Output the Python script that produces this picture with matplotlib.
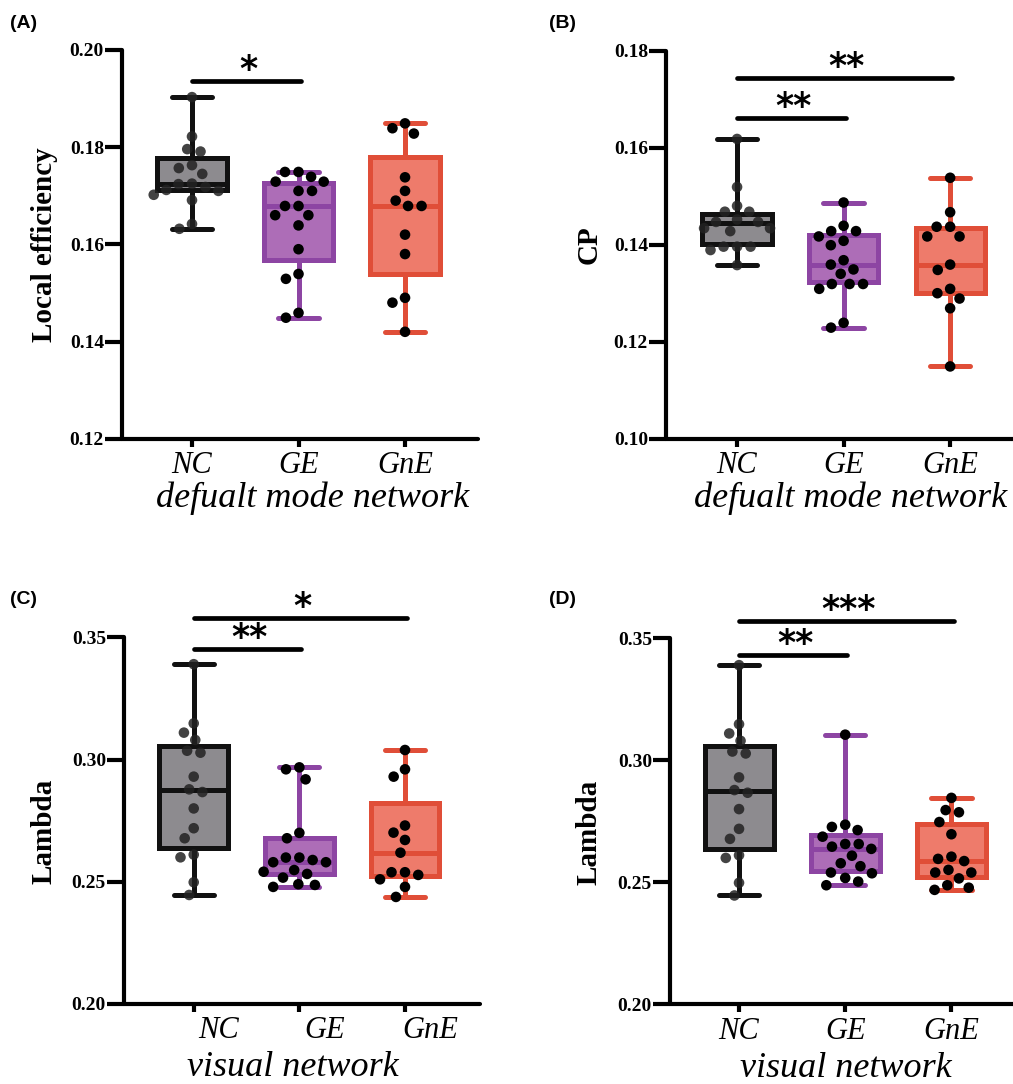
import numpy as np
import matplotlib
matplotlib.use('Agg')
import matplotlib.pyplot as plt
from matplotlib.transforms import ScaledTranslation

groups = ['NC', 'GE', 'GnE']

# ---- Panel A : Local efficiency (default mode network)
a_nc = [0.1903, 0.1822, 0.1796, 0.1791, 0.1763, 0.1757, 0.1745, 0.1725, 0.1724,
        0.1718, 0.1712, 0.1710, 0.1702, 0.1691, 0.1642, 0.1632]
a_ge = [0.1749, 0.1749, 0.1739, 0.1729, 0.1729, 0.1710, 0.1710, 0.1679, 0.1679,
        0.1660, 0.1660, 0.1639, 0.1590, 0.1539, 0.1529, 0.1459, 0.1449]
a_gne = [0.1849, 0.1839, 0.1828, 0.1738, 0.1710, 0.1690, 0.1679, 0.1679, 0.1620,
         0.1580, 0.1490, 0.1480, 0.1420]
a_q1 = [0.1711, 0.1568, 0.1539]
a_med = [0.1724, 0.1679, 0.1679]
a_q3 = [0.1778, 0.1726, 0.1779]
a_sig = [(0, 1, 0.1936, '*')]

# ---- Panel B : CP (default mode network)
b_nc = [0.1618, 0.1519, 0.1480, 0.1468, 0.1468, 0.1452, 0.1447, 0.1447, 0.1434,
        0.1434, 0.1428, 0.1396, 0.1396, 0.1396, 0.1389, 0.1358]
b_ge = [0.1487, 0.1439, 0.1428, 0.1428, 0.1417, 0.1408, 0.1399, 0.1368, 0.1359,
        0.1349, 0.1340, 0.1319, 0.1319, 0.1319, 0.1309, 0.1239, 0.1229]
b_gne = [0.1538, 0.1467, 0.1437, 0.1437, 0.1417, 0.1417, 0.1359, 0.1348, 0.1309,
         0.1300, 0.1289, 0.1269, 0.1149]
b_q1 = [0.1402, 0.1324, 0.1300]
b_med = [0.1444, 0.1359, 0.1359]
b_q3 = [0.1463, 0.1419, 0.1434]
b_sig = [(0, 1, 0.1661, '**'), (0, 2, 0.1744, '**')]

# ---- Panel C : Lambda (visual network)
c_nc = [0.3390, 0.3148, 0.3110, 0.3080, 0.3036, 0.3028, 0.2930, 0.2878, 0.2867,
        0.2800, 0.2719, 0.2678, 0.2611, 0.2600, 0.2498, 0.2446]
c_ge = [0.2968, 0.2960, 0.2919, 0.2700, 0.2678, 0.2599, 0.2599, 0.2589, 0.2580,
        0.2580, 0.2548, 0.2541, 0.2532, 0.2517, 0.2490, 0.2487, 0.2479]
c_gne = [0.3039, 0.2960, 0.2930, 0.2730, 0.2701, 0.2671, 0.2619, 0.2539, 0.2539,
         0.2528, 0.2510, 0.2479, 0.2438]
c_q1 = [0.2637, 0.2530, 0.2525]
c_med = [0.2874, 0.2580, 0.2619]
c_q3 = [0.3057, 0.2680, 0.2821]
c_sig = [(0, 1, 0.3451, '**'), (0, 2, 0.3578, '*')]

# ---- Panel D : Lambda (visual network)
d_nc = [0.3390, 0.3148, 0.3110, 0.3080, 0.3036, 0.3028, 0.2930, 0.2878, 0.2867,
        0.2800, 0.2719, 0.2678, 0.2611, 0.2600, 0.2498, 0.2446]
d_ge = [0.3105, 0.2736, 0.2727, 0.2714, 0.2687, 0.2657, 0.2657, 0.2646, 0.2637,
        0.2609, 0.2578, 0.2566, 0.2540, 0.2537, 0.2518, 0.2503, 0.2488]
d_gne = [0.2846, 0.2796, 0.2787, 0.2747, 0.2697, 0.2605, 0.2596, 0.2587, 0.2551,
         0.2540, 0.2540, 0.2516, 0.2488, 0.2478, 0.2469]
d_q1 = [0.2637, 0.2546, 0.2523]
d_med = [0.2874, 0.2637, 0.2587]
d_q3 = [0.3057, 0.2694, 0.2739]
d_sig = [(0, 1, 0.3432, '**'), (0, 2, 0.3570, '***')]

edge_colors = ['#111111', '#8d45a3', '#e04e38']
fill_colors = ['#8d8b8f', '#ad6db7', '#ee7b6b']
dot_colors = ['#222222', '#000000', '#000000']
dot_alpha = [0.85, 1.0, 1.0]

W, H = 1013, 1084
fig = plt.figure(figsize=(W / 100, H / 100), dpi=100)


def rect(l, r, t, b):
    return [l / W, 1 - b / H, (r - l) / W, (b - t) / H]


panels = [
    dict(rect=rect(122, 478, 50, 438.7), xlim=(-0.657, 2.685), ylim=(0.12, 0.20),
         yticks=[0.12, 0.14, 0.16, 0.18, 0.20],
         data=[a_nc, a_ge, a_gne], q1=a_q1, med=a_med, q3=a_q3, sig=a_sig,
         ylabel='Local efficiency', xlabel='defualt mode network', letter='(A)',
         letter_xy=(10, 24), ylab=(-0.219, 0.5), xlab=(0.534, -0.153), shift=0),
    dict(rect=rect(666, 1013, 50.7, 438.7), xlim=(-0.667, 2.59), ylim=(0.10, 0.18),
         yticks=[0.10, 0.12, 0.14, 0.16, 0.18],
         data=[b_nc, b_ge, b_gne], q1=b_q1, med=b_med, q3=b_q3, sig=b_sig,
         ylabel='CP', xlabel='defualt mode network', letter='(B)',
         letter_xy=(549, 24), ylab=(-0.222, 0.5), xlab=(0.533, -0.153), shift=0),
    dict(rect=rect(124, 480, 637.3, 1004), xlim=(-0.66, 2.71), ylim=(0.20, 0.35),
         yticks=[0.20, 0.25, 0.30, 0.35],
         data=[c_nc, c_ge, c_gne], q1=c_q1, med=c_med, q3=c_q3, sig=c_sig,
         ylabel='Lambda', xlabel='visual network', letter='(C)',
         letter_xy=(10, 600), ylab=(-0.225, 0.472), xlab=(0.475, -0.1745), shift=25),
    dict(rect=rect(670, 1013, 638.3, 1004.3), xlim=(-0.65, 2.58), ylim=(0.20, 0.35),
         yticks=[0.20, 0.25, 0.30, 0.35],
         data=[d_nc, d_ge, d_gne], q1=d_q1, med=d_med, q3=d_q3, sig=d_sig,
         ylabel='Lambda', xlabel='visual network', letter='(D)',
         letter_xy=(549, 600), ylab=(-0.236, 0.469), xlab=(0.513, -0.1745), shift=0),
]


def swarm_x(ax, xpos, values, dist_px):
    vals = np.asarray(values, dtype=float)
    pts = ax.transData.transform(np.column_stack([np.full(len(vals), xpos), vals]))
    ys = pts[:, 1]
    x0 = pts[0, 0]
    order = np.argsort(-ys)
    placed = []
    offs = np.zeros(len(vals))
    for i in order:
        y = ys[i]
        cands = [0.0]
        for (px, py) in placed:
            dy = y - py
            if abs(dy) < dist_px:
                dx = np.sqrt(dist_px ** 2 - dy ** 2)
                cands += [px + dx, px - dx]
        cands = sorted(cands, key=lambda c: (round(abs(c), 6), c))
        chosen = 0.0
        for c in cands:
            if all((c - px) ** 2 + (y - py) ** 2 >= dist_px ** 2 - 1e-6 for px, py in placed):
                chosen = c
                break
        offs[i] = chosen
        placed.append((chosen, y))
    inv = ax.transData.inverted()
    return np.array([inv.transform((x0 + o, ys[0]))[0] for o in offs])


serif = 'Liberation Serif'
lw_box = 3.6

for p in panels:
    ax = fig.add_axes(p['rect'])
    ax.set_xlim(*p['xlim'])
    ax.set_ylim(*p['ylim'])
    ax.patch.set_alpha(0)
    for s in ['top', 'right']:
        ax.spines[s].set_visible(False)
    for s in ['left', 'bottom']:
        ax.spines[s].set_linewidth(3.0)
        ax.spines[s].set_capstyle('round')

    pos = list(range(len(groups)))
    stats = []
    for i, d in enumerate(p['data']):
        stats.append(dict(med=p['med'][i], q1=p['q1'][i], q3=p['q3'][i],
                          whislo=min(d), whishi=max(d), fliers=[]))
    for i in pos:
        ec = edge_colors[i]
        ax.bxp([stats[i]], positions=[i], widths=0.65, capwidths=0.38,
               patch_artist=True, showfliers=False,
               boxprops=dict(facecolor=fill_colors[i], edgecolor=ec, linewidth=lw_box),
               whiskerprops=dict(color=ec, linewidth=lw_box, solid_capstyle='butt'),
               capprops=dict(color=ec, linewidth=lw_box, solid_capstyle='round'),
               medianprops=dict(color=ec, linewidth=lw_box, solid_capstyle='round'),
               manage_ticks=False)

    for i, d in enumerate(p['data']):
        xs = swarm_x(ax, i, d, 13.5)
        ax.scatter(xs, d, s=58, color=dot_colors[i], alpha=dot_alpha[i],
                   edgecolors='none', zorder=5, clip_on=False)

    for (i, j, yb, lab) in p['sig']:
        ax.plot([i, j + 0.02], [yb, yb], color='black', lw=3.4,
                solid_capstyle='round', clip_on=False)
        ax.annotate(lab, xy=((i + j) / 2 + 0.03, yb), xytext=(0, 8),
                    textcoords='offset points', ha='center', va='center',
                    fontsize=25, fontweight='bold', fontstyle='italic',
                    family='DejaVu Sans', annotation_clip=False)

    ax.set_yticks(p['yticks'])
    ax.set_yticklabels(['%.2f' % t for t in p['yticks']], fontfamily=serif,
                       fontweight='bold', fontsize=14)
    ax.tick_params(axis='y', length=12, width=3.0, pad=1)
    ax.set_xticks(pos)
    ax.set_xticklabels(groups, fontfamily=serif, fontstyle='italic', fontsize=22)
    ax.tick_params(axis='x', length=6, width=3.0, pad=3)
    if p['shift']:
        for lbl in ax.get_xticklabels():
            lbl.set_transform(lbl.get_transform() +
                              ScaledTranslation(p['shift'] / 100, 0, fig.dpi_scale_trans))

    ax.set_ylabel(p['ylabel'], fontfamily=serif, fontweight='bold', fontsize=21)
    ax.yaxis.label.set_va('center')
    ax.yaxis.set_label_coords(*p['ylab'])
    ax.set_xlabel(p['xlabel'], fontfamily=serif, fontstyle='italic', fontsize=26)
    ax.xaxis.label.set_va('center')
    ax.xaxis.set_label_coords(*p['xlab'])

    lx, ly = p['letter_xy']
    fig.text(lx / W, 1 - ly / H, p['letter'], ha='left', va='center',
             fontsize=14, fontweight='bold', family='Liberation Sans')

fig.savefig('out.png', dpi=100)
